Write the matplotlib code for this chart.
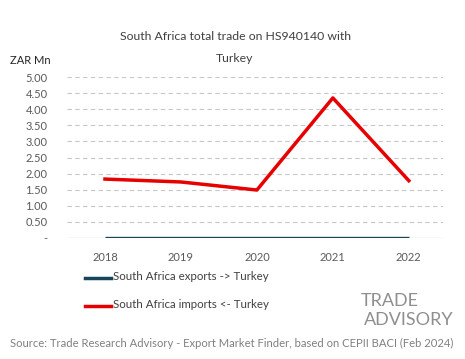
import matplotlib
matplotlib.use("Agg")
import matplotlib.pyplot as plt

plt.rcParams['font.family'] = ['Lato', 'DejaVu Sans']

years = ["2018", "2019", "2020", "2021", "2022"]
exports = [0.0, 0.0, 0.0, 0.0, 0.0]
imports = [1.83, 1.74, 1.49, 4.35, 1.78]
yticks = [0, 0.5, 1.0, 1.5, 2.0, 2.5, 3.0, 3.5, 4.0, 4.5, 5.0]
ytick_labels = ["-"] + [f"{v:.2f}" for v in yticks[1:]]

W, H = 465, 359
fig = plt.figure(figsize=(W/100, H/100), dpi=100)
ax = fig.add_axes([67/W, 1-238/H, (443-67)/W, (238-77)/H])

x = list(range(len(years)))
ax.plot(x, exports, color="#17455c", lw=2.4, solid_capstyle="butt", zorder=3)
ax.plot(x, imports, color="#e60000", lw=2.5, zorder=3)

ax.set_xlim(-0.5, 4.45)
ax.set_ylim(0, 5.0)
ax.set_yticks(yticks)
ax.set_yticklabels(ytick_labels)
ax.set_xticks(x)
ax.set_xticklabels(years)
for v in yticks[1:]:
    ax.axhline(v, color="#c8c8c8", lw=0.8, ls=(0, (4, 3)), zorder=1)
ax.axhline(0, color="#c8c8c8", lw=0.9, zorder=2)
for s in ax.spines.values():
    s.set_visible(False)
ax.tick_params(length=0, labelsize=8, colors="#595959")
ax.tick_params(axis='y', pad=14)
ax.tick_params(axis='x', pad=10)

fig.text(235/W, 1-36/H, "South Africa total trade on HS940140 with", ha="center", va="center", fontsize=8.8, color="#404040")
fig.text(235/W, 1-58/H, "Turkey", ha="center", va="center", fontsize=8.8, color="#404040")
fig.text(10/W, 1-61/H, "ZAR Mn", ha="left", va="center", fontsize=8, color="#262626")

# legend
fig.lines.append(plt.Line2D([85/W, 111/W], [1-278/H, 1-278/H], color="#17455c", lw=2.5, transform=fig.transFigure))
fig.lines.append(plt.Line2D([85/W, 111/W], [1-306/H, 1-306/H], color="#e60000", lw=2.5, transform=fig.transFigure))
fig.text(113/W, 1-277/H, "South Africa exports -> Turkey", ha="left", va="center", fontsize=8.3, color="#404040")
fig.text(113/W, 1-305/H, "South Africa imports <- Turkey", ha="left", va="center", fontsize=8.3, color="#404040")

# logo
fig.text(390/W, 1-301/H, "TRADE", ha="center", va="center", fontsize=13, color="#8f8f8f")
fig.text(409/W, 1-320/H, "ADVISORY", ha="center", va="center", fontsize=13, color="#8f8f8f")

fig.text(232/W, 1-343/H, "Source: Trade Research Advisory - Export Market Finder, based on CEPII BACI (Feb 2024)",
         ha="center", va="center", fontsize=8.1, color="#808080")

fig.savefig("out.png", dpi=100, facecolor="white")
